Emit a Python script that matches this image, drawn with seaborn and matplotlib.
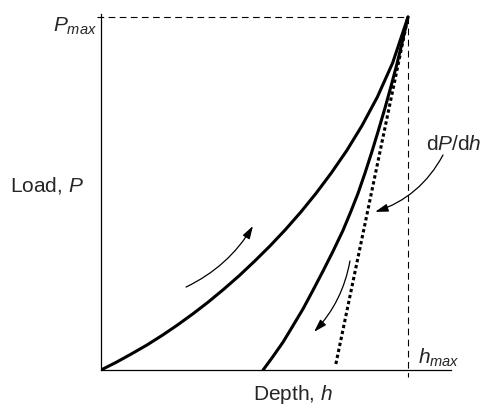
import matplotlib
matplotlib.use("Agg")
import matplotlib.pyplot as plt
import seaborn as sns

# Normalised depth / load (h/hmax, P/Pmax)
load_h = [0.0, 0.05, 0.10, 0.15, 0.20, 0.25, 0.30, 0.35, 0.40, 0.45, 0.50,
          0.55, 0.60, 0.65, 0.70, 0.75, 0.80, 0.85, 0.90, 0.95, 1.0]
load_P = [0.0, 0.022, 0.046, 0.071, 0.0985, 0.128, 0.1595, 0.193, 0.229, 0.267, 0.308,
          0.351, 0.397, 0.4465, 0.500, 0.558, 0.621, 0.692, 0.773, 0.870, 1.0]

unload_h = [0.528, 0.56, 0.593, 0.625, 0.658, 0.69, 0.723, 0.755, 0.788, 0.812,
            0.837, 0.86, 0.883, 0.904, 0.925, 0.945, 0.964, 0.982, 1.0]
unload_P = [0.0, 0.038, 0.079, 0.125, 0.173, 0.225, 0.280, 0.335, 0.395, 0.445,
            0.500, 0.558, 0.620, 0.680, 0.742, 0.805, 0.867, 0.932, 1.0]

# tangent to the top of the unloading curve (dP/dh)
tangent_h = [0.765, 1.0]
tangent_P = [0.017, 1.0]

h_max = 1.0
P_max = 1.0

sns.set_style("white")
plt.rcParams["font.family"] = ["Liberation Sans", "DejaVu Sans"]
plt.rcParams["mathtext.fontset"] = "custom"
plt.rcParams["mathtext.rm"] = "Liberation Sans"
plt.rcParams["mathtext.it"] = "Liberation Sans:italic"

W, H = 484, 410
fig = plt.figure(figsize=(W / 100, H / 100), dpi=100)
ax = fig.add_axes([101 / W, 39 / H, 350 / W, 356 / H])
ax.set_xlim(0, 350 / 307)
ax.set_ylim(0, 356 / 353)

# curves
sns.lineplot(x=load_h, y=load_P, ax=ax, color="black", lw=2.2)
sns.lineplot(x=unload_h, y=unload_P, ax=ax, color="black", lw=2.2)
sns.lineplot(x=tangent_h, y=tangent_P, ax=ax, color="black", lw=2.2,
             linestyle=(0, (1.1, 0.9)))

# guide lines to Pmax / hmax
ax.plot([-0.013, h_max], [P_max, P_max], color="black", lw=0.8,
        linestyle=(0, (6, 4)), clip_on=False)
ax.plot([h_max, h_max], [P_max, -0.02], color="black", lw=0.8,
        linestyle=(0, (6, 4)), clip_on=False)

# axes: only left and bottom lines, no ticks
for side in ["top", "right"]:
    ax.spines[side].set_visible(False)
for side in ["left", "bottom"]:
    ax.spines[side].set_linewidth(0.9)
    ax.spines[side].set_color("black")
ax.set_xticks([])
ax.set_yticks([])

# direction arrows
arrow = dict(arrowstyle="-|>,head_length=0.55,head_width=0.17", color="black",
             lw=0.9, shrinkA=0, shrinkB=0, mutation_scale=14)
ax.annotate("", xy=(0.495, 0.408), xytext=(0.277, 0.235),
            arrowprops=dict(arrow, connectionstyle="arc3,rad=0.15"))
ax.annotate("", xy=(0.694, 0.108), xytext=(0.811, 0.309),
            arrowprops=dict(arrow, connectionstyle="arc3,rad=-0.15"))
ax.annotate("", xy=(0.893, 0.448), xytext=(1.114, 0.609),
            arrowprops=dict(arrow, connectionstyle="arc3,rad=-0.2"),
            annotation_clip=False)

# labels (placed in figure pixels)
fs = 15
fig.text(97 / W, 1 - 26 / H, "$P_{max}$", ha="right", va="center", fontsize=fs)
fig.text(10 / W, 1 - 186 / H, "Load, $P$", ha="left", va="center", fontsize=fs)
fig.text(418 / W, 1 - 358 / H, "$h_{max}$", ha="left", va="center", fontsize=fs)
fig.text(293 / W, 1 - 395 / H, "Depth, $h$", ha="center", va="center", fontsize=fs)
fig.text(426 / W, 1 - 145 / H, "d$P$/d$h$", ha="left", va="center", fontsize=fs)

fig.savefig("out.png", dpi=100)
